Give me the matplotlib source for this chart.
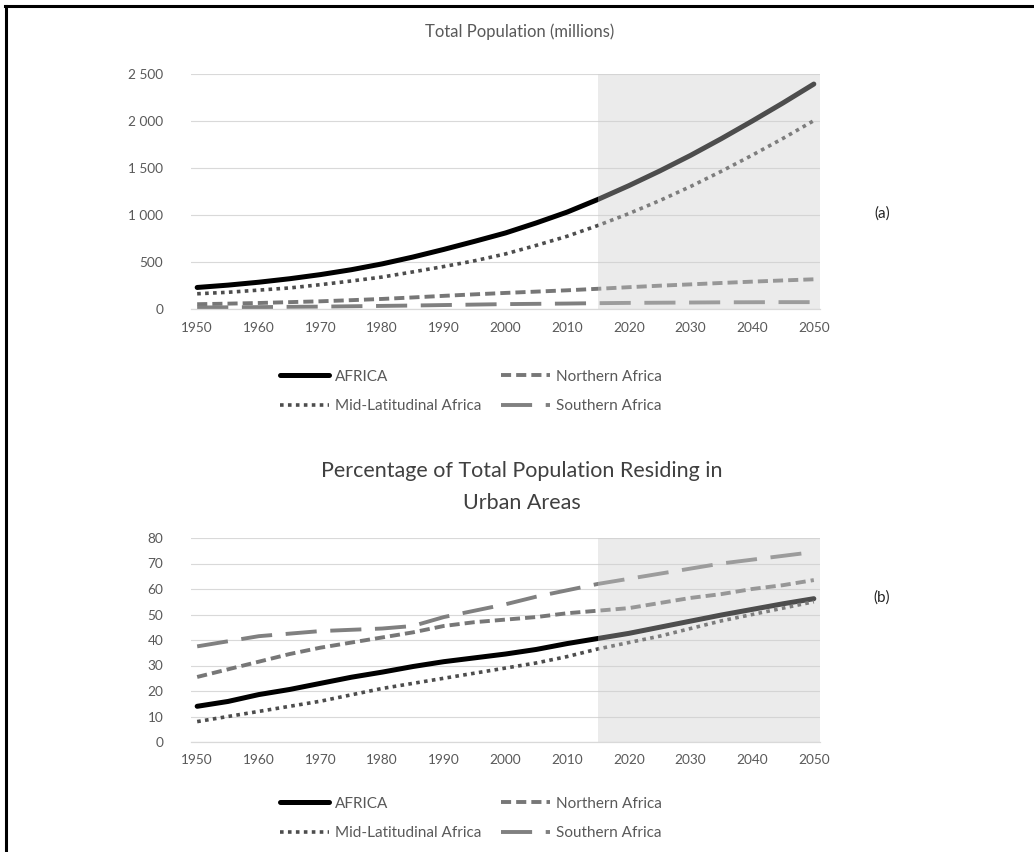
import matplotlib as mpl
mpl.use('Agg')
import matplotlib.pyplot as plt
from matplotlib.lines import Line2D
from matplotlib.ticker import FuncFormatter

plt.rcParams['font.family'] = ['Lato', 'DejaVu Sans']

years = [1950, 1955, 1960, 1965, 1970, 1975, 1980, 1985, 1990, 1995, 2000,
         2005, 2010, 2015, 2020, 2025, 2030, 2035, 2040, 2045, 2050]

# total population (millions)
pop_africa = [229, 254, 285, 322, 366, 418, 480, 553, 634, 720, 809,
              916, 1031, 1166, 1312, 1468, 1634, 1812, 1999, 2192, 2393]
pop_north = [51, 57, 64, 73, 82, 94, 107, 123, 140, 156, 171,
             185, 199, 215, 232, 248, 262, 277, 291, 304, 316]
pop_mid = [162, 178, 201, 224, 259, 298, 340, 395, 452, 513, 586,
           677, 774, 889, 1015, 1153, 1303, 1465, 1636, 1815, 2004]
pop_south = [16, 18, 20, 23, 25, 29, 33, 37, 42, 47, 52,
             55, 58, 62, 65, 67, 69, 71, 72, 73, 73]

# urban share (%)
urb_africa = [14.0, 15.9, 18.6, 20.6, 23.0, 25.4, 27.4, 29.6, 31.5, 33.0, 34.5,
              36.3, 38.6, 40.6, 42.6, 45.0, 47.4, 49.8, 52.0, 54.2, 56.2]
urb_north = [25.5, 28.5, 31.5, 34.5, 37.0, 39.0, 41.0, 43.0, 45.5, 47.0, 48.0,
             49.0, 50.5, 51.5, 52.5, 54.5, 56.5, 58.0, 60.0, 61.5, 63.5]
urb_mid = [8.0, 10.0, 12.0, 14.0, 16.0, 18.5, 21.0, 23.0, 25.0, 27.0, 29.0,
           31.0, 33.5, 36.5, 39.0, 41.5, 44.5, 47.5, 50.0, 52.5, 55.0]
urb_south = [37.5, 39.5, 41.5, 42.5, 43.5, 44.0, 44.5, 45.5, 49.0, 51.5, 54.0,
             57.0, 59.5, 62.0, 64.0, 66.0, 68.0, 70.0, 71.5, 73.0, 74.5]

xticks = list(range(1950, 2051, 10))
proj_start = 2015
labels = ['AFRICA', 'Northern Africa', 'Mid-Latitudinal Africa', 'Southern Africa']

txt = '#595959'
grid = '#d9d9d9'

W, H = 1034, 852
fig = plt.figure(figsize=(W / 100, H / 100), dpi=100)


def fig_box(x0, y0, x1, y1):
    return [x0 / W, 1 - y1 / H, (x1 - x0) / W, (y1 - y0) / H]


def draw_panel(ax, series, ylim, yticks, fmt):
    africa, north, mid, south = series
    h1, = ax.plot(years, africa, color='black', lw=3.6, solid_capstyle='round')
    h2, = ax.plot(years, north, color='#777777', lw=2.8, ls=(0, (2.6, 1.3)))
    h3, = ax.plot(years, mid, color='#4d4d4d', lw=2.6, ls=(0, (1.0, 1.2)))
    h4, = ax.plot(years, south, color='#808080', lw=2.8, ls=(0, (8.0, 3.5)))
    ax.axvspan(proj_start, 2051, color='#cccccc', alpha=0.38, lw=0, zorder=5)
    ax.set_xlim(1949, 2051)
    ax.set_ylim(*ylim)
    ax.set_xticks(xticks)
    ax.set_yticks(yticks)
    ax.yaxis.set_major_formatter(FuncFormatter(fmt))
    ax.grid(axis='y', color=grid, lw=0.8)
    ax.set_axisbelow(True)
    for s in ['top', 'right', 'left']:
        ax.spines[s].set_visible(False)
    ax.spines['bottom'].set_color(grid)
    ax.spines['bottom'].set_linewidth(0.9)
    ax.tick_params(axis='both', length=0, colors=txt, labelsize=9.8)
    ax.tick_params(axis='y', pad=20)
    ax.tick_params(axis='x', pad=9)
    return [h1, h3, h2, h4]


def add_legend(handles, top_px):
    fig.legend(handles, [labels[0], labels[2], labels[1], labels[3]], ncol=2,
               loc='upper left', bbox_to_anchor=(272 / W, 1 - top_px / H),
               frameon=False, fontsize=11, handlelength=3.2,
               handletextpad=0.4, columnspacing=1.3, labelspacing=1.0,
               borderpad=0, labelcolor=txt)


# (a) total population
ax1 = fig.add_axes(fig_box(191, 74, 820, 309))
hand = draw_panel(ax1, [pop_africa, pop_north, pop_mid, pop_south],
                  (0, 2500), range(0, 2501, 500),
                  lambda v, p: '{:,}'.format(int(v)).replace(',', ' '))
fig.text(520 / W, 1 - 32 / H, 'Total Population (millions)', ha='center',
         va='center', fontsize=12, color=txt)
fig.text(882 / W, 1 - 214 / H, '(a)', ha='center', va='center',
         fontsize=11, color='#222222')
add_legend(hand, 362)

# (b) urban share
ax2 = fig.add_axes(fig_box(191, 538, 820, 742))
hand = draw_panel(ax2, [urb_africa, urb_north, urb_mid, urb_south],
                  (0, 80), range(0, 81, 10),
                  lambda v, p: '%d' % v)
fig.text(522 / W, 1 - 487 / H,
         'Percentage of Total Population Residing in\nUrban Areas',
         ha='center', va='center', fontsize=15.5, color='#404040',
         linespacing=1.8)
fig.text(882 / W, 1 - 598 / H, '(b)', ha='center', va='center',
         fontsize=11, color='#222222')
add_legend(hand, 789)

# page frame (top and left rules)
fig.add_artist(Line2D([5 / W, 1], [1 - 6 / H, 1 - 6 / H], color='black',
                      lw=2.2, transform=fig.transFigure))
fig.add_artist(Line2D([6 / W, 6 / W], [0, 1 - 6 / H], color='black',
                      lw=2.2, transform=fig.transFigure))

fig.savefig('out.png', dpi=100)
